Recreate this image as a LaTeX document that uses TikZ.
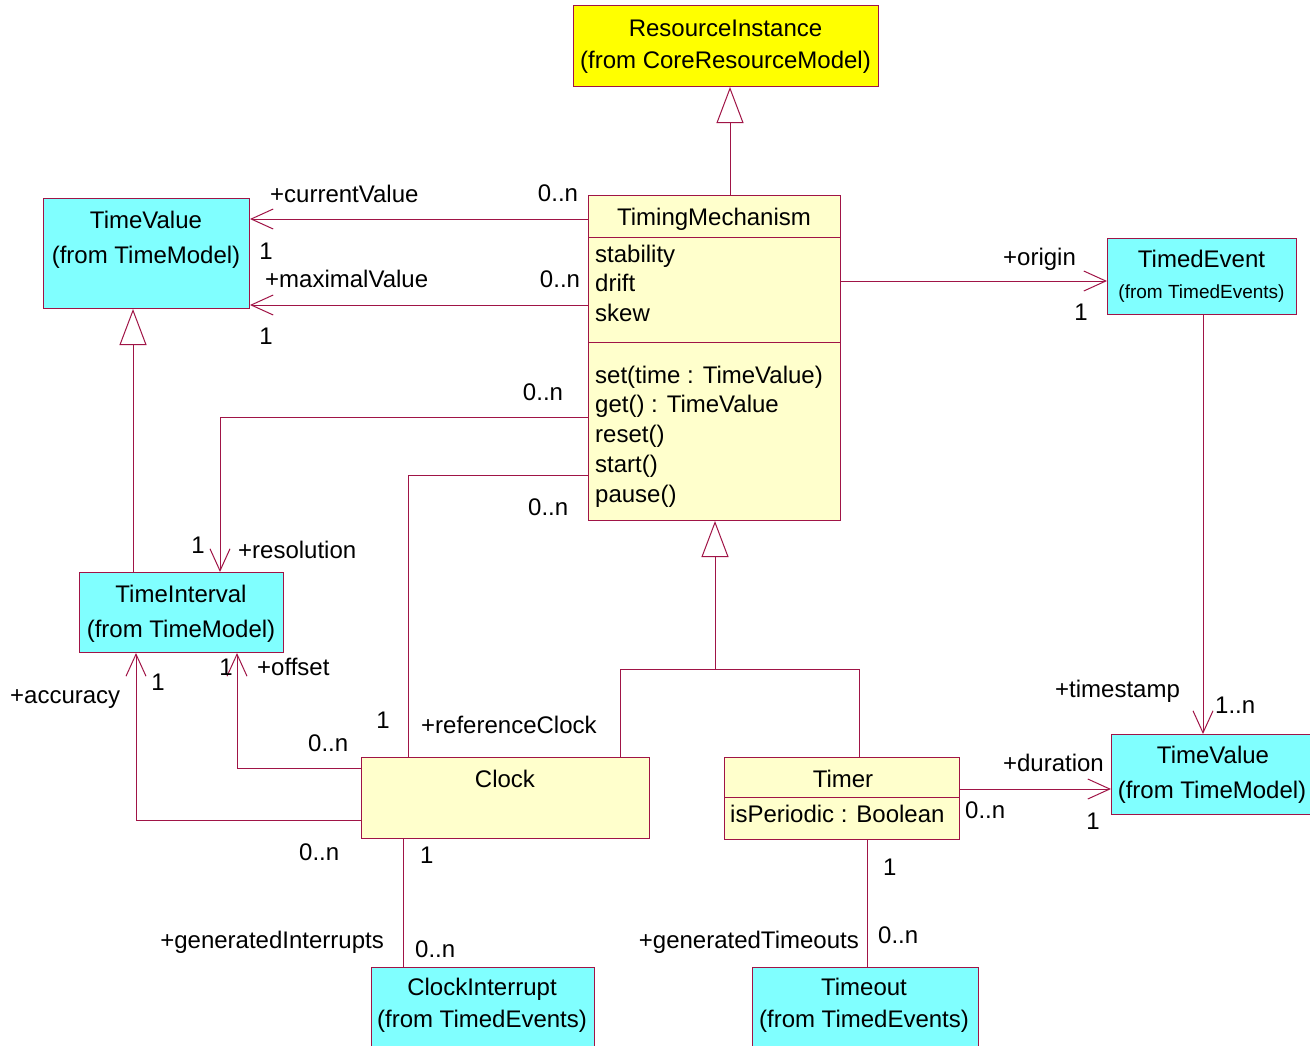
\documentclass[tikz,border=0pt]{standalone}
\usepackage{fontspec}
\setmainfont{Liberation Sans}
\usetikzlibrary{arrows.meta}
\definecolor{umlred}{RGB}{160,20,70}
\definecolor{clsyellow}{RGB}{255,255,204}
\definecolor{pkgcyan}{RGB}{128,255,255}
\definecolor{riyellow}{RGB}{255,255,0}
\tikzset{
  cls/.style={draw=umlred, line width=1pt, rectangle, inner sep=0pt, anchor=north west},
  txt/.style={inner sep=0pt, anchor=base, font=\fontsize{24}{28}\selectfont},
  ltxt/.style={txt, anchor=base west},
  rtxt/.style={txt, anchor=base east},
  stxt/.style={txt, font=\fontsize{19}{23}\selectfont},
  conn/.style={draw=umlred, line width=1pt},
  assoc/.style={conn, -{Straight Barb[length=22pt,width=20pt,line width=1pt]}},
  gen/.style={conn, -{Triangle[open,length=36pt,width=27pt,fill=white,line width=1pt]}}
}
\begin{document}
\begin{tikzpicture}[x=1pt,y=-1pt]
\useasboundingbox (0,0) rectangle (1310,1045);
\fill[white] (0,0) rectangle (1310,1045);

% ---- class boxes ----
\node[cls, fill=riyellow, minimum width=305pt, minimum height=81pt] (ri) at (573,5) {};
\node[cls, fill=clsyellow, minimum width=252pt, minimum height=325pt] (tm) at (588,195) {};
\node[cls, fill=pkgcyan, minimum width=206pt, minimum height=110pt] (tvl) at (43,198) {};
\node[cls, fill=pkgcyan, minimum width=189pt, minimum height=76pt] (te) at (1107,238) {};
\node[cls, fill=pkgcyan, minimum width=204pt, minimum height=80pt] (tvr) at (1111,734) {};
\node[cls, fill=pkgcyan, minimum width=204pt, minimum height=80pt] (ti) at (79,572) {};
\node[cls, fill=clsyellow, minimum width=288pt, minimum height=81pt] (clk) at (361,757) {};
\node[cls, fill=clsyellow, minimum width=235pt, minimum height=82pt] (tmr) at (724,757) {};
\node[cls, fill=pkgcyan, minimum width=223pt, minimum height=83pt] (ci) at (371,967) {};
\node[cls, fill=pkgcyan, minimum width=226pt, minimum height=83pt] (to) at (752,967) {};

% compartment separators
\draw[conn] (tm.west |- 0,237) -- (tm.east |- 0,237);
\draw[conn] (tm.west |- 0,342) -- (tm.east |- 0,342);
\draw[conn] (tmr.west |- 0,797) -- (tmr.east |- 0,797);

% ---- class texts ----
\node[txt] (ri1) at (725.5,36) {ResourceInstance};
\node[txt] (ri2) at (725.5,68) {(from CoreResourceModel)};
\node[txt] (tm1) at (714,225) {TimingMechanism};
\node[ltxt] (tma1) at (595,262) {stability};
\node[ltxt] (tma2) at (595,291) {drift};
\node[ltxt] (tma3) at (595,321) {skew};
\node[ltxt] (tmo1) at (595,383) {set(time : TimeValue)};
\node[ltxt] (tmo2) at (595,412) {get() : TimeValue};
\node[ltxt] (tmo3) at (595,442) {reset()};
\node[ltxt] (tmo4) at (595,472) {start()};
\node[ltxt] (tmo5) at (595,502) {pause()};
\node[txt] (tvl1) at (146,228) {TimeValue};
\node[txt] (tvl2) at (146,263) {(from TimeModel)};
\node[txt] (te1) at (1201.5,267) {TimedEvent};
\node[stxt] (te2) at (1201.5,298) {(from TimedEvents)};
\node[txt] (tvr1) at (1213,763) {TimeValue};
\node[txt] (tvr2) at (1212,798) {(from TimeModel)};
\node[txt] (ti1) at (181,602) {TimeInterval};
\node[txt] (ti2) at (181,637) {(from TimeModel)};
\node[txt] (clk1) at (505,787) {Clock};
\node[txt] (tmr1) at (843,787) {Timer};
\node[ltxt] (tmr2) at (730,822) {isPeriodic : Boolean};
\node[txt] (ci1) at (482,995) {ClockInterrupt};
\node[txt] (ci2) at (482,1027) {(from TimedEvents)};
\node[txt] (to1) at (864,995) {Timeout};
\node[txt] (to2) at (864,1027) {(from TimedEvents)};

% ---- connectors ----
\draw[gen] (730,0 |- tm.north) -- (730,0 |- ri.south);
\draw[gen] (133,0 |- ti.north) -- (133,0 |- tvl.south);
\coordinate (genj) at (715,669);
\draw[conn] (620,0 |- clk.north) -- (620,0 |- genj) -- (859,0 |- genj) -- (859,0 |- tmr.north);
\draw[gen] (genj) -- (715,0 |- tm.south);

\draw[assoc] (tm.west |- 0,219) -- (tvl.east |- 0,219);
\draw[assoc] (tm.west |- 0,305) -- (tvl.east |- 0,305);
\draw[assoc] (tm.east |- 0,281) -- (te.west |- 0,281);
\draw[assoc] (1203,0 |- te.south) -- (1203,0 |- tvr.north);
\draw[assoc] (tmr.east |- 0,789) -- (tvr.west |- 0,789);
\draw[conn] (867,0 |- tmr.south) -- (867,0 |- to.north);
\draw[conn] (403,0 |- clk.south) -- (403,0 |- ci.north);
\draw[assoc] (tm.west |- 0,417) -| (220,0 |- ti.north);
\draw[conn] (tm.west |- 0,475) -| (408,0 |- clk.north);
\draw[assoc] (clk.west |- 0,768) -| (237,0 |- ti.south);
\draw[assoc] (clk.west |- 0,820) -| (136,0 |- ti.south);

% ---- association labels ----
\node[ltxt] (l1) at (270,202) {+currentValue};
\node[txt] (l2) at (558,201) {0..n};
\node[txt] (l3) at (266,259) {1};
\node[ltxt] (l4) at (265,287) {+maximalValue};
\node[txt] (l5) at (560,287) {0..n};
\node[txt] (l6) at (266,344) {1};
\node[ltxt] (l7) at (1003,265) {+origin};
\node[txt] (l8) at (1081,320) {1};
\node[ltxt] (l9) at (1055,697) {+timestamp};
\node[ltxt] (l10) at (1215,713) {1..n};
\node[rtxt] (l11) at (1104,771) {+duration};
\node[ltxt] (l12) at (965,818) {0..n};
\node[txt] (l13) at (1093,829) {1};
\node[ltxt] (l14) at (883,875) {1};
\node[ltxt] (l15) at (878,943) {0..n};
\node[rtxt] (l16) at (859,948) {+generatedTimeouts};
\node[ltxt] (l17) at (299,860) {0..n};
\node[ltxt] (l18) at (420,863) {1};
\node[rtxt] (l19) at (384,948) {+generatedInterrupts};
\node[ltxt] (l20) at (415,957) {0..n};
\node[ltxt] (l21) at (421,733) {+referenceClock};
\node[txt] (l22) at (383,728) {1};
\node[ltxt] (l23) at (528,515) {0..n};
\node[txt] (l24) at (543,400) {0..n};
\node[txt] (l25) at (198,553) {1};
\node[ltxt] (l26) at (238,558) {+resolution};
\node[txt] (l27) at (226,675) {1};
\node[ltxt] (l28) at (257,675) {+offset};
\node[ltxt] (l29) at (308,751) {0..n};
\node[ltxt] (l30) at (10,703) {+accuracy};
\node[txt] (l31) at (158,690) {1};
\end{tikzpicture}
\end{document}
